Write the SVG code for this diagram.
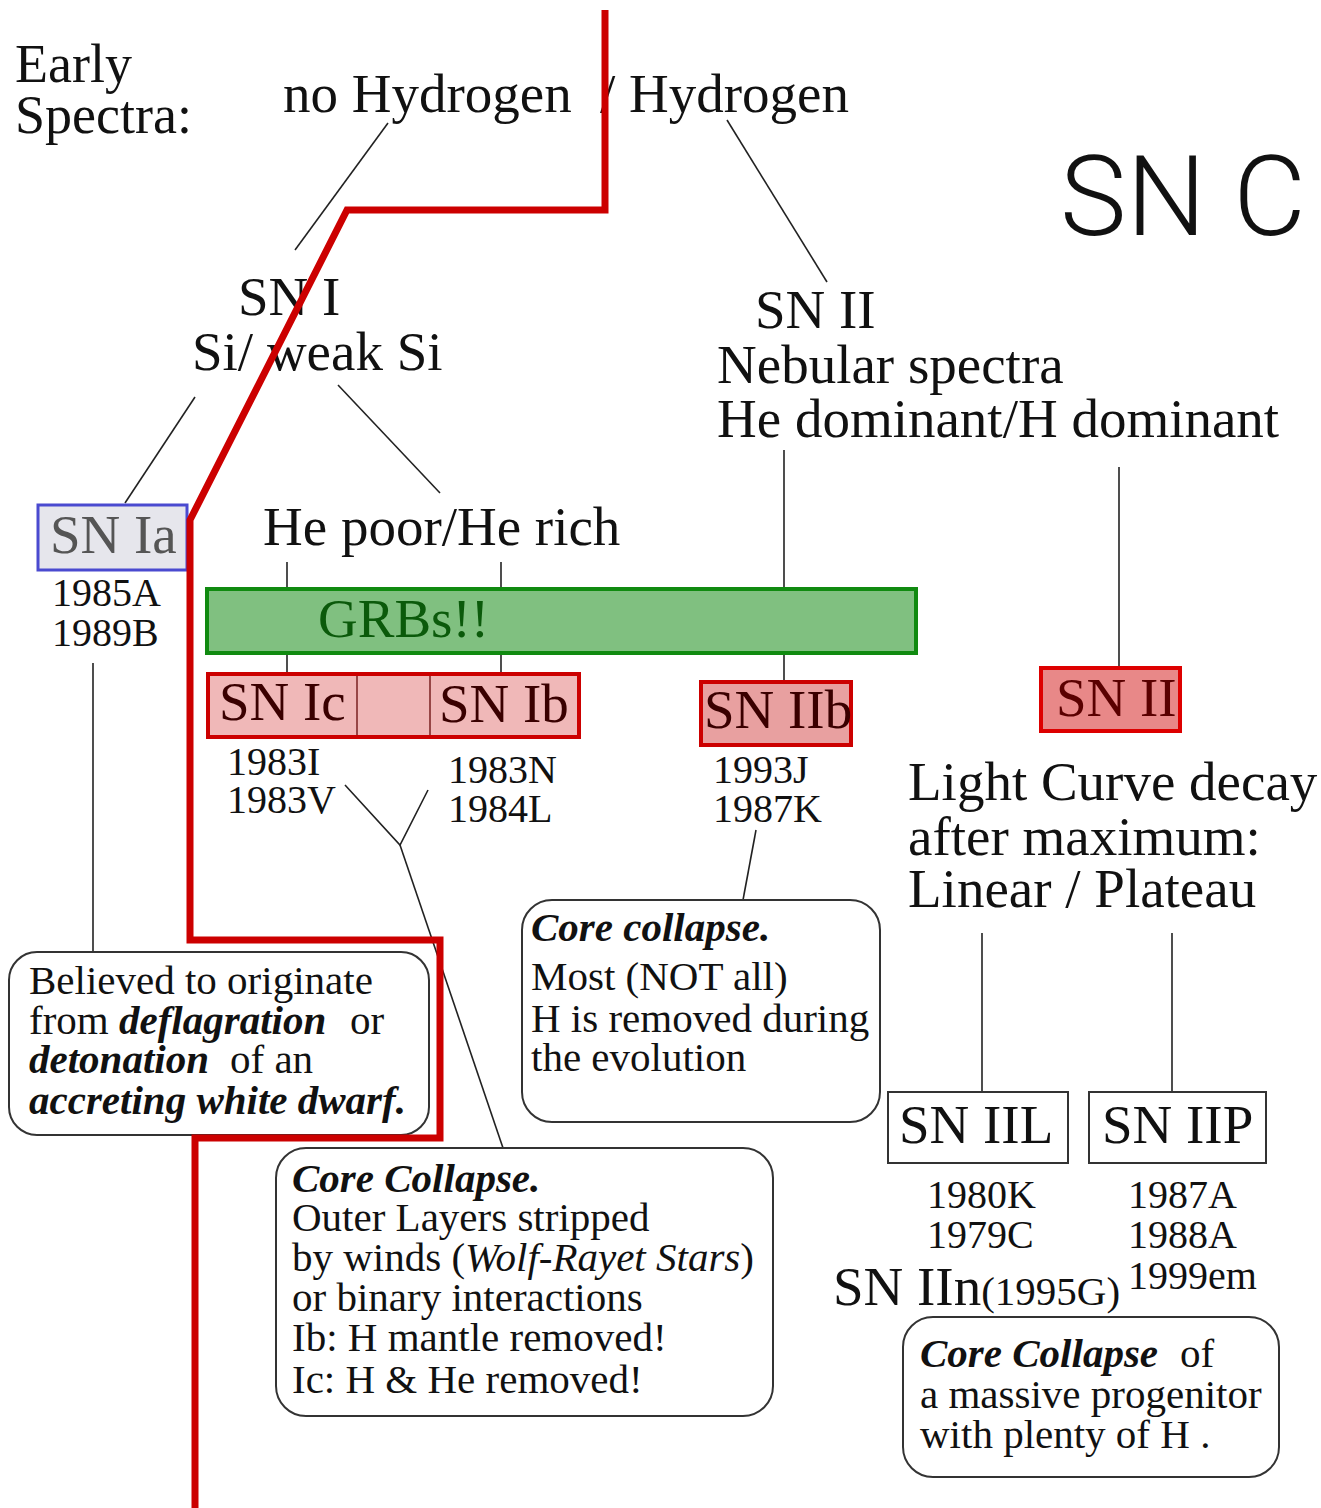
<svg xmlns="http://www.w3.org/2000/svg" width="1321" height="1508" viewBox="0 0 1321 1508">
<style>
.t{font-family:"Liberation Serif","Times New Roman",serif;fill:#111}
.L{font-size:55px}
.s{font-size:40px}
.b{font-size:41px}
.bi{font-weight:bold;font-style:italic}
.it{font-style:italic}
.ln{stroke:#222;stroke-width:1.6;fill:none}
.rb{fill:#fff;stroke:#333;stroke-width:2}
</style>
<rect width="1321" height="1508" fill="#fff"/>

<g id="connectors">
<line class="ln" x1="388" y1="123" x2="295" y2="250"/>
<line class="ln" x1="727" y1="120" x2="827" y2="282"/>
<line class="ln" x1="195" y1="397" x2="125" y2="503"/>
<line class="ln" x1="338" y1="385" x2="440" y2="493"/>
<line class="ln" x1="784" y1="450" x2="784" y2="681"/>
<line class="ln" x1="1119" y1="467" x2="1119" y2="667"/>
<line class="ln" x1="93" y1="663" x2="93" y2="952"/>
<line class="ln" x1="287" y1="562" x2="287" y2="673"/>
<line class="ln" x1="501" y1="562" x2="501" y2="673"/>
<polyline class="ln" points="345,785 400,845 428,790"/>
<line class="ln" x1="400" y1="845" x2="503" y2="1148"/>
<line class="ln" x1="756" y1="830" x2="743" y2="900"/>
<line class="ln" x1="982" y1="933" x2="982" y2="1092"/>
<line class="ln" x1="1172" y1="933" x2="1172" y2="1092"/>
</g>

<g id="title">
<text class="t" font-size="54" x="15" y="82">Early</text>
<text class="t" font-size="54" x="15" y="133">Spectra:</text>
<text class="t L" x="283" y="112">no Hydrogen</text>
<text class="t L" x="600" y="112">/ Hydrogen</text>
<text x="1060" y="235" font-family="Roboto,'Liberation Sans',Arial,sans-serif" font-weight="300" font-size="112" fill="#111">SN C</text>
</g>

<g id="sn1">
<text class="t L" x="238" y="315">SN I</text>
<text class="t L" x="192" y="370">Si/ weak Si</text>
</g>

<g id="sn2-head">
<text class="t L" x="755" y="328">SN II</text>
<text class="t L" x="717" y="383">Nebular spectra</text>
<text class="t L" x="717" y="437">He dominant/H dominant</text>
</g>

<g id="heprich">
<text class="t L" x="263" y="545">He poor/He rich</text>
</g>

<g id="snia">
<rect x="38" y="505" width="149" height="65" fill="#e6e6ec" stroke="#4a4ad0" stroke-width="3"/>
<text class="t L" x="50" y="553" style="fill:#555">SN Ia</text>
<text class="t s" x="52" y="606">1985A</text>
<text class="t s" x="52" y="646">1989B</text>
</g>

<g id="grbs">
<rect x="207" y="589" width="709" height="64" fill="#80c080" stroke="#108a10" stroke-width="4"/>
<text class="t L" x="318" y="637" style="fill:#0b5a0b">GRBs!!</text>
</g>

<g id="snicib">
<rect x="208" y="674" width="371" height="63" fill="#f0b8b8" stroke="#cc0000" stroke-width="4"/>
<line x1="357" y1="676" x2="357" y2="735" stroke="#7a2020" stroke-width="1.5"/>
<line x1="430" y1="676" x2="430" y2="735" stroke="#7a2020" stroke-width="1.5"/>
<text class="t L" x="219" y="720" style="fill:#3a0000">SN Ic</text>
<text class="t L" x="439" y="722" style="fill:#3a0000">SN Ib</text>
<text class="t s" x="227" y="775">1983I</text>
<text class="t s" x="227" y="813">1983V</text>
<text class="t s" x="448" y="783">1983N</text>
<text class="t s" x="448" y="822">1984L</text>
</g>

<g id="sniib">
<rect x="701" y="682" width="150" height="63" fill="#e8a0a0" stroke="#cc0000" stroke-width="4"/>
<text class="t L" x="704" y="728" style="fill:#3a0000">SN IIb</text>
<text class="t s" x="713" y="783">1993J</text>
<text class="t s" x="713" y="822">1987K</text>
</g>

<g id="snii">
<rect x="1041" y="668" width="139" height="63" fill="#e88888" stroke="#dd0000" stroke-width="4"/>
<text class="t L" x="1056" y="716" style="fill:#5a0000">SN II</text>
</g>

<g id="lightcurve">
<text class="t L" x="908" y="800">Light Curve decay</text>
<text class="t L" x="908" y="855">after maximum:</text>
<text class="t L" x="908" y="907">Linear / Plateau</text>
</g>

<g id="sniil">
<rect x="888" y="1092" width="180" height="71" fill="#fff" stroke="#333" stroke-width="2"/>
<text class="t L" x="899" y="1143">SN IIL</text>
<text class="t s" x="927" y="1208">1980K</text>
<text class="t s" x="927" y="1248">1979C</text>
</g>

<g id="sniip">
<rect x="1089" y="1092" width="177" height="71" fill="#fff" stroke="#333" stroke-width="2"/>
<text class="t L" x="1102" y="1143">SN IIP</text>
<text class="t s" x="1128" y="1208">1987A</text>
<text class="t s" x="1128" y="1248">1988A</text>
<text class="t s" x="1128" y="1289">1999em</text>
</g>

<g id="sniin">
<text class="t L" x="833" y="1305">SN IIn<tspan font-size="41">(1995G)</tspan></text>
</g>

<g id="box-ia">
<rect class="rb" x="9" y="952" width="420" height="183" rx="28"/>
<text class="t b" x="29" y="994">Believed to originate</text>
<text class="t b" x="29" y="1034">from <tspan class="bi">deflagration</tspan><tspan x="350">or</tspan></text>
<text class="t b" x="29" y="1073"><tspan class="bi">detonation</tspan><tspan x="230">of an</tspan></text>
<text class="t b bi" x="29" y="1114">accreting white dwarf.</text>
</g>

<g id="box-iib">
<rect class="rb" x="522" y="900" width="358" height="222" rx="30"/>
<text class="t b bi" x="531" y="941">Core collapse.</text>
<text class="t b" x="531" y="990">Most (NOT all)</text>
<text class="t b" x="531" y="1032">H is removed during</text>
<text class="t b" x="531" y="1071">the evolution</text>
</g>

<g id="box-ibc">
<rect class="rb" x="276" y="1148" width="497" height="268" rx="30"/>
<text class="t b bi" x="292" y="1192">Core Collapse.</text>
<text class="t b" x="292" y="1231">Outer Layers stripped</text>
<text class="t b" x="292" y="1271">by winds (<tspan class="it">Wolf-Rayet Stars</tspan>)</text>
<text class="t b" x="292" y="1311">or binary interactions</text>
<text class="t b" x="292" y="1351">Ib: H mantle removed!</text>
<text class="t b" x="292" y="1393">Ic: H &amp; He removed!</text>
</g>

<g id="box-ii">
<rect class="rb" x="903" y="1317" width="376" height="160" rx="30"/>
<text class="t b" x="920" y="1367"><tspan class="bi">Core Collapse</tspan><tspan x="1180">of</tspan></text>
<text class="t b" x="920" y="1408">a massive progenitor</text>
<text class="t b" x="920" y="1448">with plenty of H .</text>
</g>

<g id="redline">
<polyline points="605,10 605,210 347,210 190,520 190,940 440,940 440,1138 195,1138 195,1508" fill="none" stroke="#cc0000" stroke-width="7" stroke-linejoin="miter"/>
</g>
</svg>
